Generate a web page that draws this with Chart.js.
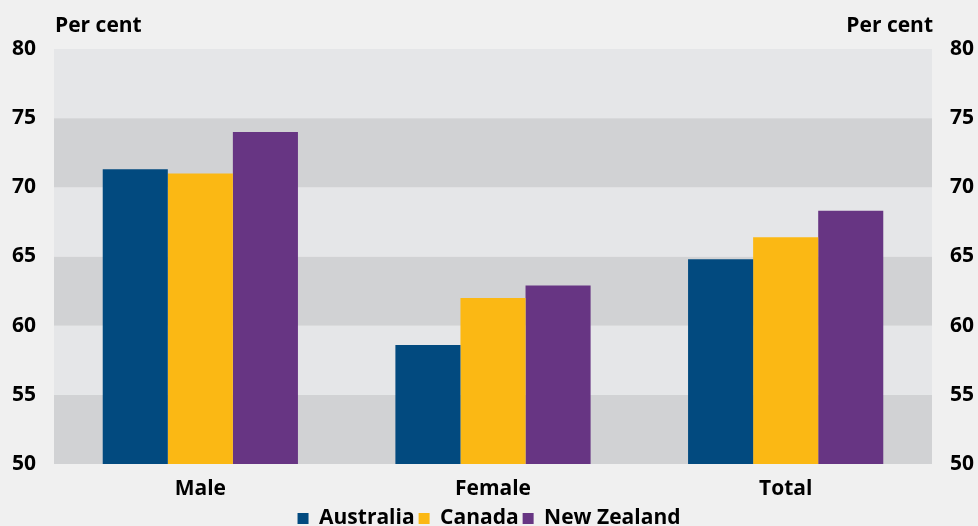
<!DOCTYPE html>
<html>
<head>
<meta charset="utf-8">
<script src="https://cdn.jsdelivr.net/npm/chart.js@4.4.1/dist/chart.umd.min.js"></script>
<style>
  html, body { margin: 0; padding: 0; background: #f0f0f0; }
  #wrap { width: 978px; height: 526px; }
</style>
</head>
<body>
<div id="wrap"><canvas id="chart" width="978" height="526"></canvas></div>
<script>
// Chart data
const categories = ['Male', 'Female', 'Total'];
const australia = [71.3, 58.6, 64.8];
const canada = [71.0, 62.0, 66.4];
const newZealand = [74.0, 62.9, 68.3];
const yTicks = [50, 55, 60, 65, 70, 75, 80];

const FONT = "'Open Sans', 'Noto Sans', sans-serif";
const boldFont = { family: FONT, size: 21, weight: 'bold' };

// Alternating grey bands behind the bars + "Per cent" titles
const bandsPlugin = {
    id: 'bands',
    beforeDatasetsDraw(chart) {
        const { ctx, chartArea, scales } = chart;
        const y = scales.y;
        ctx.save();
        for (let i = 0; i < yTicks.length - 1; i++) {
            const top = y.getPixelForValue(yTicks[i + 1]);
            const bottom = y.getPixelForValue(yTicks[i]);
            ctx.fillStyle = i % 2 === 0 ? '#d1d2d4' : '#e5e6e8';
            ctx.fillRect(chartArea.left, top, chartArea.right - chartArea.left, bottom - top);
        }
        ctx.restore();
    },
    afterDraw(chart) {
        const { ctx, chartArea } = chart;
        ctx.save();
        ctx.fillStyle = '#000';
        ctx.font = 'bold 21px ' + FONT;
        ctx.textBaseline = 'alphabetic';
        ctx.textAlign = 'left';
        ctx.fillText('Per cent', chartArea.left + 1, 32);
        ctx.textAlign = 'right';
        ctx.fillText('Per cent', chartArea.right + 1, 32);
        ctx.restore();
    }
};

const ctx = document.getElementById('chart').getContext('2d');
const chart = new Chart(ctx, {
    type: 'bar',
    data: {
        labels: categories,
        datasets: [
            { label: 'Australia', data: australia, backgroundColor: '#024a7f' },
            { label: 'Canada', data: canada, backgroundColor: '#fbb814' },
            { label: 'New Zealand', data: newZealand, backgroundColor: '#673583' }
        ]
    },
    options: {
        responsive: false,
        animation: false,
        devicePixelRatio: 1,
        layout: { padding: { top: 49, left: 0, right: 0, bottom: -13 } },
        datasets: { bar: { categoryPercentage: 0.667, barPercentage: 1.0 } },
        plugins: {
            legend: {
                position: 'bottom',
                labels: {
                    color: '#000',
                    font: boldFont,
                    boxWidth: 11,
                    boxHeight: 11,
                    padding: 4
                }
            },
            tooltip: { enabled: false }
        },
        scales: {
            x: {
                grid: { display: false, drawTicks: false },
                border: { display: false },
                ticks: { color: '#000', font: boldFont, padding: 12 },
                afterFit(scale) { scale.height = 40; }
            },
            y: {
                position: 'left',
                min: 50, max: 80,
                grid: { display: false, drawTicks: false },
                border: { display: false },
                ticks: { stepSize: 5, color: '#000', font: boldFont, padding: 18 },
                afterFit(scale) { scale.width = 54; }
            },
            y2: {
                position: 'right',
                min: 50, max: 80,
                grid: { display: false, drawTicks: false },
                border: { display: false },
                ticks: { stepSize: 5, color: '#000', font: boldFont, padding: 18 },
                afterFit(scale) { scale.width = 46; }
            }
        }
    },
    plugins: [bandsPlugin]
});
</script>
</body>
</html>
